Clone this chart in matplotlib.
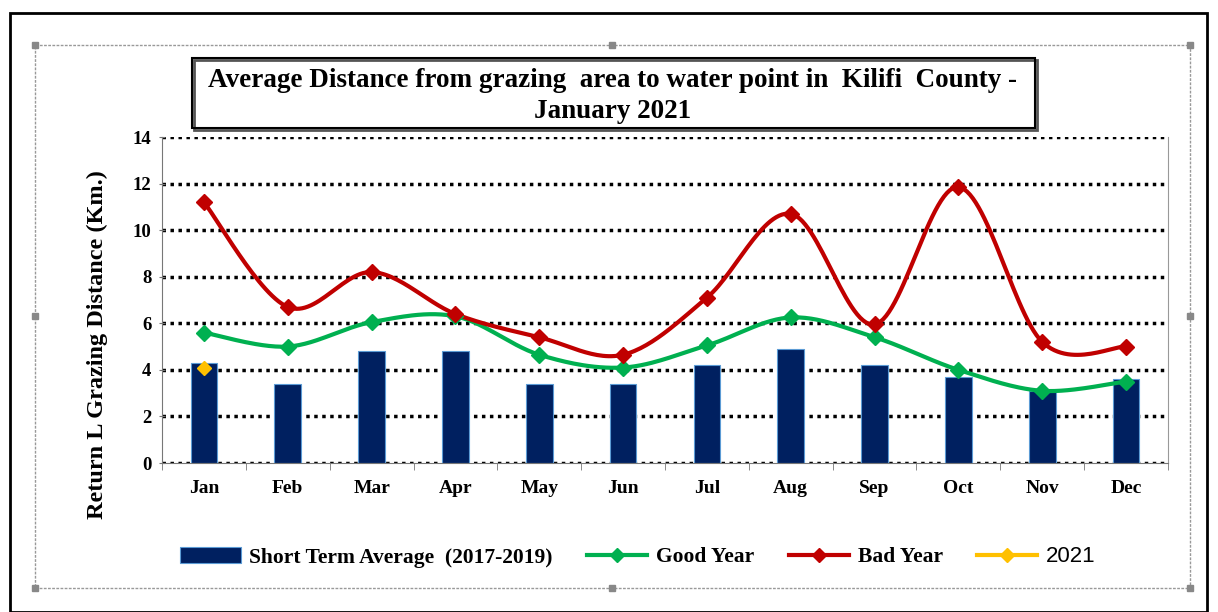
import numpy as np
import matplotlib
matplotlib.use("Agg")
from matplotlib import pyplot as plt
from matplotlib.patches import Rectangle
from matplotlib.lines import Line2D

months = ["Jan", "Feb", "Mar", "Apr", "May", "Jun", "Jul", "Aug", "Sep", "Oct", "Nov", "Dec"]
short_term_avg = [4.3, 3.4, 4.8, 4.8, 3.4, 3.4, 4.2, 4.9, 4.2, 3.7, 3.1, 3.6]
good_year = [5.6, 5.0, 6.05, 6.3, 4.65, 4.1, 5.05, 6.25, 5.4, 4.0, 3.1, 3.5]
bad_year = [11.2, 6.7, 8.2, 6.4, 5.4, 4.65, 7.1, 10.7, 5.95, 11.85, 5.2, 5.0]
year_2021 = [4.1]

NAVY = "#002060"
GREEN = "#00B050"
RED = "#C00000"
YELLOW = "#FFC000"
SERIF = "Liberation Serif"


def smooth(x, y, n=30):
    # catmull-rom style smoothing, like excel's "smoothed line"
    x = np.asarray(x, float)
    y = np.asarray(y, float)
    px = np.concatenate([[x[0]], x, [x[-1]]])
    py = np.concatenate([[y[0]], y, [y[-1]]])
    xs, ys = [], []
    t = np.linspace(0, 1, n)
    for i in range(1, len(px) - 2):
        for p, out in ((px, xs), (py, ys)):
            p0, p1, p2, p3 = p[i - 1], p[i], p[i + 1], p[i + 2]
            c1 = p1 + (p2 - p0) / 6
            c2 = p2 - (p3 - p1) / 6
            out.extend((1 - t) ** 3 * p1 + 3 * (1 - t) ** 2 * t * c1
                       + 3 * (1 - t) * t ** 2 * c2 + t ** 3 * p2)
    return xs, ys


fig = plt.figure(figsize=(12.18, 6.12), dpi=100)
W, H = 1218, 612

# outer black frame and dashed chart frame
fig.patches.append(Rectangle((10 / W, 0), 1197 / W, 1 - 13 / H, transform=fig.transFigure,
                             fill=False, ec="black", lw=2))
fig.patches.append(Rectangle((35 / W, 1 - 588 / H), 1155 / W, 543 / H, transform=fig.transFigure,
                             fill=False, ec="#999999", lw=1, ls=(0, (2, 1))))
for hx, hy in [(35, 45), (612, 45), (1190, 45), (35, 316), (1190, 316), (35, 588), (612, 588), (1190, 588)]:
    fig.patches.append(Rectangle((hx / W - 3 / W, 1 - hy / H - 3 / H), 6 / W, 6 / H,
                                 transform=fig.transFigure, color="#888888"))

# title box
fig.patches.append(Rectangle((194 / W, 1 - 130 / H), 843 / W, 70 / H, transform=fig.transFigure,
                             fill=False, ec="#555555", lw=2))
fig.patches.append(Rectangle((192 / W, 1 - 128 / H), 843 / W, 70 / H, transform=fig.transFigure,
                             fill=False, ec="black", lw=1.5))
fig.text(613 / W, 1 - 96 / H, "Average Distance from grazing  area to water point in  Kilifi  County -\nJanuary 2021",
         ha="center", va="center", family=SERIF, weight="bold", fontsize=19.5, linespacing=1.35)

ax = fig.add_axes([162 / W, 1 - 463 / H, 1006 / W, 326 / H])
x = np.arange(len(months))

ax.bar(x, short_term_avg, width=0.32, color=NAVY, edgecolor="#5B9BD5", linewidth=0.8, zorder=2)

gx, gy = smooth(x, good_year)
ax.plot(gx, gy, color=GREEN, lw=3, zorder=3)
ax.plot(x, good_year, ls="none", marker="D", ms=8, color=GREEN, zorder=4)

bx, by = smooth(x, bad_year)
ax.plot(bx, by, color=RED, lw=3, zorder=3)
ax.plot(x, bad_year, ls="none", marker="D", ms=8, color=RED, zorder=4)

ax.plot(x[:len(year_2021)], year_2021, ls="none", marker="D", ms=7, color=YELLOW, zorder=5)

ax.set_xlim(-0.5, len(months) - 0.5)
ax.set_ylim(0, 14)
ax.set_yticks(range(0, 15, 2))
ax.yaxis.grid(True, color="black", ls=(0, (1, 1.3)), lw=2.5)
ax.set_axisbelow(True)

ax.set_xticks(x)
ax.set_xticklabels(months, family=SERIF, weight="bold", fontsize=14)
ax.set_xticks(np.arange(-0.5, len(months), 1), minor=True)
ax.tick_params(axis="x", which="major", length=0, pad=12)
ax.tick_params(axis="x", which="minor", length=5, direction="out", color="#777777")
ax.tick_params(axis="y", length=5, direction="inout", color="#777777", pad=5)
for lab in ax.get_yticklabels():
    lab.set_family(SERIF)
    lab.set_weight("bold")
    lab.set_fontsize(13.5)

ax.spines["top"].set_visible(False)
ax.spines["left"].set_color("#777777")
ax.spines["bottom"].set_color("#777777")
ax.spines["right"].set_color("#999999")

fig.text(97 / W, 1 - 345 / H, "Return L Grazing Distance (Km.)", rotation=90, ha="center", va="center",
         family=SERIF, weight="bold", fontsize=17.5)

handles = [
    Rectangle((0, 0), 1, 1, fc=NAVY, ec="#5B9BD5", lw=0.8),
    Line2D([], [], color=GREEN, lw=3, marker="D", ms=7),
    Line2D([], [], color=RED, lw=3, marker="D", ms=7),
    Line2D([], [], color=YELLOW, lw=3, marker="D", ms=7),
]
labels = ["Short Term Average  (2017-2019)", "Good Year", "Bad Year", "2021"]
leg = fig.legend(handles, labels, ncol=4, loc="center", bbox_to_anchor=(638 / W, 1 - 557 / H),
                 frameon=False, prop={"family": SERIF, "weight": "bold", "size": 15.5},
                 handlelength=2.8, handleheight=0.7, columnspacing=1.6, handletextpad=0.4)
last = leg.get_texts()[-1]
last.set_family("Liberation Sans")
last.set_weight("normal")
last.set_fontsize(16)

fig.savefig("out.png", dpi=100)
